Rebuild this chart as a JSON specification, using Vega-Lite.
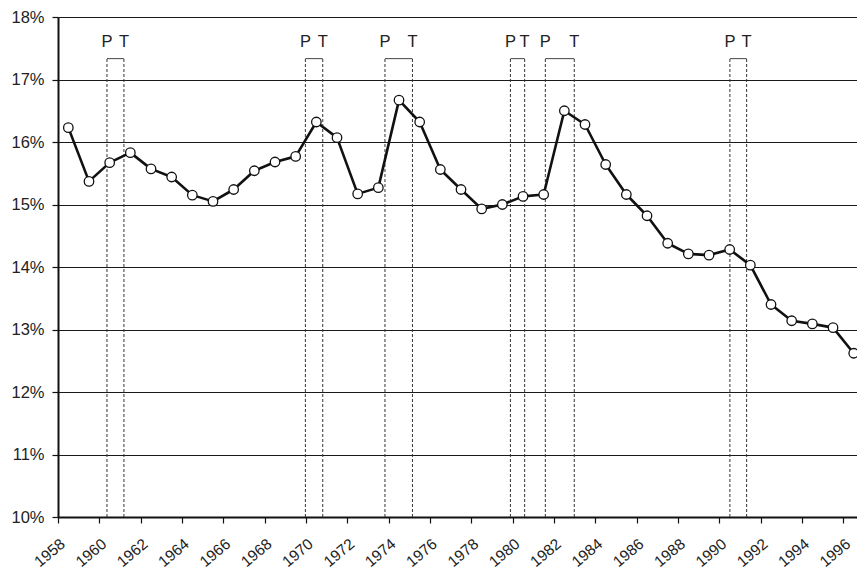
{
  "$schema": "https://vega.github.io/schema/vega-lite/v6.json",
  "autosize": {"type": "none"},
  "padding": {"left": 58, "top": 17, "right": 0, "bottom": 56},
  "width": 799,
  "height": 500,
  "background": "white",
  "config": {
    "view": {"stroke": null},
    "font": "Liberation Sans",
    "axis": {
      "labelFont": "Liberation Sans",
      "labelFontSize": 16.5,
      "labelColor": "#222222",
      "domainColor": "#111111",
      "domainWidth": 2,
      "tickColor": "#111111",
      "tickWidth": 1.2,
      "tickSize": 6,
      "title": null
    }
  },
  "datasets": {
    "rates": [
      {"year": 1958.5, "rate": 16.23},
      {"year": 1959.5, "rate": 15.37},
      {"year": 1960.5, "rate": 15.67},
      {"year": 1961.5, "rate": 15.83},
      {"year": 1962.5, "rate": 15.57},
      {"year": 1963.5, "rate": 15.44},
      {"year": 1964.5, "rate": 15.15},
      {"year": 1965.5, "rate": 15.05},
      {"year": 1966.5, "rate": 15.24},
      {"year": 1967.5, "rate": 15.54},
      {"year": 1968.5, "rate": 15.68},
      {"year": 1969.5, "rate": 15.77},
      {"year": 1970.5, "rate": 16.32},
      {"year": 1971.5, "rate": 16.07},
      {"year": 1972.5, "rate": 15.17},
      {"year": 1973.5, "rate": 15.27},
      {"year": 1974.5, "rate": 16.67},
      {"year": 1975.5, "rate": 16.32},
      {"year": 1976.5, "rate": 15.56},
      {"year": 1977.5, "rate": 15.24},
      {"year": 1978.5, "rate": 14.93},
      {"year": 1979.5, "rate": 15.0},
      {"year": 1980.5, "rate": 15.13},
      {"year": 1981.5, "rate": 15.16},
      {"year": 1982.5, "rate": 16.5},
      {"year": 1983.5, "rate": 16.28},
      {"year": 1984.5, "rate": 15.64},
      {"year": 1985.5, "rate": 15.16},
      {"year": 1986.5, "rate": 14.82},
      {"year": 1987.5, "rate": 14.38},
      {"year": 1988.5, "rate": 14.21},
      {"year": 1989.5, "rate": 14.19},
      {"year": 1990.5, "rate": 14.28},
      {"year": 1991.5, "rate": 14.03},
      {"year": 1992.5, "rate": 13.4},
      {"year": 1993.5, "rate": 13.14},
      {"year": 1994.5, "rate": 13.09},
      {"year": 1995.5, "rate": 13.03},
      {"year": 1996.5, "rate": 12.62}
    ],
    "recessions": [
      {"peak": 1960.37, "trough": 1961.19},
      {"peak": 1969.97, "trough": 1970.81},
      {"peak": 1973.82, "trough": 1975.15},
      {"peak": 1979.89, "trough": 1980.58},
      {"peak": 1981.58, "trough": 1982.98},
      {"peak": 1990.51, "trough": 1991.32}
    ]
  },
  "layer": [
    {
      "data": {"name": "recessions"},
      "mark": {"type": "rule", "strokeDash": [3, 2], "strokeWidth": 1, "color": "#333333"},
      "encoding": {
        "x": {"field": "peak", "type": "quantitative", "scale": {"domain": [1958, 1996.66], "nice": false, "zero": false},
          "axis": {
            "values": [1958,1959,1960,1961,1962,1963,1964,1965,1966,1967,1968,1969,1970,1971,1972,1973,1974,1975,1976,1977,1978,1979,1980,1981,1982,1983,1984,1985,1986,1987,1988,1989,1990,1991,1992,1993,1994,1995,1996],
            "format": "d",
            "labelExpr": "datum.value % 2 == 0 ? datum.label : ''",
            "labelAngle": -40,
            "labelFontSize": 15.5,
            "labelAlign": "right",
            "labelBaseline": "top",
            "labelPadding": 13,
            "labelOverlap": false,
            "grid": false
          }},
        "y": {"datum": 10, "type": "quantitative", "scale": {"domain": [10, 18], "nice": false, "zero": false},
          "axis": {
            "values": [10,11,12,13,14,15,16,17,18],
            "labelExpr": "datum.value + '%'",
            "labelPadding": 8,
            "grid": true,
            "gridColor": "#1a1a1a",
            "gridWidth": 1.2,
            "gridOpacity": 1
          }},
        "y2": {"datum": 17.334}
      }
    },
    {
      "data": {"name": "recessions"},
      "mark": {"type": "rule", "strokeDash": [3, 2], "strokeWidth": 1, "color": "#333333"},
      "encoding": {
        "x": {"field": "trough", "type": "quantitative"},
        "y": {"datum": 10, "type": "quantitative"},
        "y2": {"datum": 17.334}
      }
    },
    {
      "data": {"name": "recessions"},
      "mark": {"type": "rule", "strokeWidth": 1, "color": "#444444"},
      "encoding": {
        "x": {"field": "peak", "type": "quantitative"},
        "x2": {"field": "trough"},
        "y": {"datum": 17.334, "type": "quantitative"}
      }
    },
    {
      "data": {"name": "recessions"},
      "mark": {"type": "text", "text": "P", "fontSize": 16.5, "color": "#222222", "baseline": "middle", "align": "center"},
      "encoding": {
        "x": {"field": "peak", "type": "quantitative"},
        "y": {"datum": 17.6, "type": "quantitative"}
      }
    },
    {
      "data": {"name": "recessions"},
      "mark": {"type": "text", "text": "T", "fontSize": 16.5, "color": "#222222", "baseline": "middle", "align": "center"},
      "encoding": {
        "x": {"field": "trough", "type": "quantitative"},
        "y": {"datum": 17.6, "type": "quantitative"}
      }
    },
    {
      "data": {"name": "rates"},
      "mark": {"type": "line", "color": "#111111", "strokeWidth": 2.6, "strokeJoin": "round"},
      "encoding": {
        "x": {"field": "year", "type": "quantitative"},
        "y": {"field": "rate", "type": "quantitative"}
      }
    },
    {
      "data": {"name": "rates"},
      "mark": {"type": "point", "filled": false, "fill": "white", "fillOpacity": 1, "stroke": "#111111", "strokeWidth": 1.3, "size": 90, "opacity": 1},
      "encoding": {
        "x": {"field": "year", "type": "quantitative"},
        "y": {"field": "rate", "type": "quantitative"}
      }
    }
  ]
}
